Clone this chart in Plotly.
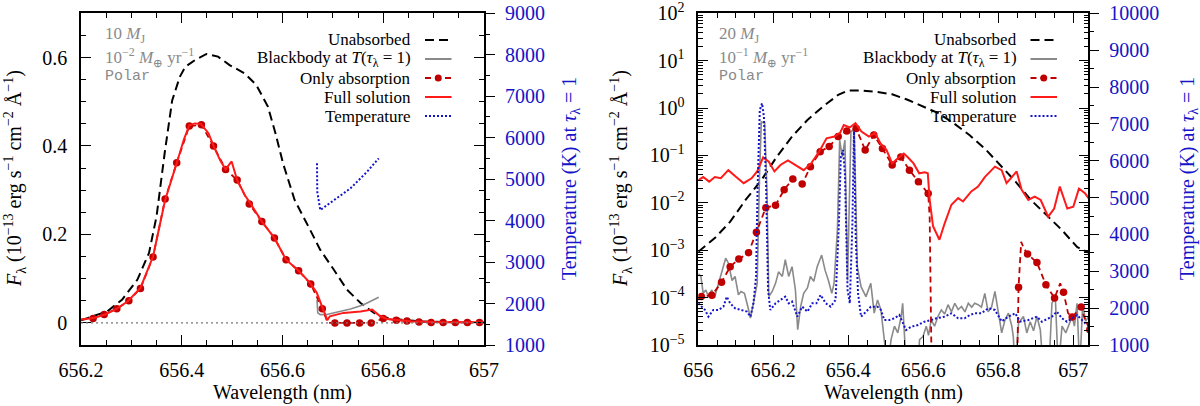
import plotly.graph_objects as go

W, H = 1200, 406
FONT = "Liberation Serif, Times New Roman, DejaVu Serif, serif"
MONO = "Liberation Mono, DejaVu Sans Mono, monospace"
BLUE = "#1414c8"
RED = "#ff1a1a"
DARKRED = "#c00000"
GRAY = "#8a8a8a"

# ---------------- left panel: 10 MJ, 1e-2 Mearth/yr, polar ----------------
l_unabs_x = [656.200, 656.252, 656.282, 656.312, 656.335, 656.350, 656.366, 656.381, 656.396, 656.407,
             656.426, 656.449, 656.472, 656.495, 656.525, 656.548, 656.571, 656.586, 656.601, 656.624,
             656.655, 656.675, 656.702, 656.728, 656.755, 656.781, 656.800, 656.834, 656.875, 657.000]
l_unabs_y = [0.006, 0.026, 0.053, 0.098, 0.158, 0.241, 0.383, 0.503, 0.556, 0.579,
             0.594, 0.608, 0.602, 0.583, 0.564, 0.538, 0.489, 0.429, 0.361, 0.278,
             0.210, 0.165, 0.120, 0.075, 0.045, 0.023, 0.013, 0.0075, 0.003, 0.001]

l_bb_x = [656.6685, 656.670, 656.675, 656.688, 656.735, 656.761, 656.791]
l_bb_y = [0.0526, 0.0226, 0.0187, 0.019, 0.0316, 0.041, 0.058]

l_full_x = [656.200, 656.225, 656.248, 656.271, 656.293, 656.318, 656.343, 656.367, 656.390, 656.404,
            656.415, 656.426, 656.438, 656.453, 656.464, 656.476, 656.487, 656.499, 656.510, 656.525,
            656.537, 656.559, 656.584, 656.607, 656.632, 656.655, 656.668, 656.681, 656.689, 656.694,
            656.721, 656.755, 656.778, 656.794, 656.808, 656.834, 656.854, 656.900, 657.000]
l_full_y = [0.0075, 0.011, 0.019, 0.032, 0.049, 0.079, 0.150, 0.278, 0.361, 0.414,
            0.447, 0.451, 0.450, 0.429, 0.398, 0.368, 0.347, 0.365, 0.323, 0.289,
            0.269, 0.229, 0.192, 0.143, 0.118, 0.090, 0.068, 0.032, 0.006, 0.015,
            0.0226, 0.026, 0.030, 0.015, 0.009, 0.006, 0.0036, 0.002, 0.0015]

l_abs_x = [656.200, 656.224, 656.246, 656.271, 656.295, 656.318, 656.343, 656.367, 656.390, 656.415,
           656.439, 656.463, 656.487, 656.510, 656.534, 656.559, 656.584, 656.607, 656.632, 656.656,
           656.679, 656.690, 656.704, 656.728, 656.753, 656.776, 656.800, 656.826, 656.847, 656.871,
           656.895, 656.919, 656.943, 656.967, 656.991]
l_abs_y = [0.0075, 0.0098, 0.019, 0.032, 0.050, 0.078, 0.149, 0.280, 0.362, 0.445,
           0.448, 0.400, 0.347, 0.323, 0.269, 0.229, 0.192, 0.143, 0.118, 0.088,
           0.032, 0.0, 0.0, 0.0, 0.0, 0.0, 0.0097, 0.006, 0.004, 0.002,
           0.001, 0.001, 0.001, 0.001, 0.001]
l_dot_x = l_abs_x[1:21] + l_abs_x[22:]
l_dot_y = l_abs_y[1:21] + l_abs_y[22:]

l_temp_x = [656.6685, 656.669, 656.675, 656.7016, 656.735, 656.768, 656.791]
l_temp_y = [5382, 4700, 4256, 4497, 4779, 5180, 5503]

# ---------------- right panel: 20 MJ, 1e-1 Mearth/yr, polar ----------------
r_unabs_x = [656.000, 656.044, 656.085, 656.126, 656.168, 656.209, 656.250, 656.291, 656.332, 656.373,
             656.399, 656.435, 656.476, 656.517, 656.558, 656.599, 656.640, 656.681, 656.723, 656.764,
             656.805, 656.846, 656.887, 656.928, 656.969, 657.010, 657.048]
r_unabs_y = [9.3e-4, 1.8e-3, 4.0e-3, 1.15e-2, 3.0e-2, 9.3e-2, 0.25, 0.56, 1.07, 1.9,
             2.35, 2.35, 2.2, 1.95, 1.5, 1.1, 0.78, 0.48, 0.27, 0.14,
             0.063, 0.028, 0.0115, 0.0055, 0.0027, 0.00117, 0.00083]

r_full_x = [656.000, 656.013, 656.029, 656.044, 656.060, 656.080, 656.101, 656.121, 656.142, 656.157,
            656.173, 656.188, 656.203, 656.219, 656.239, 656.260, 656.281, 656.301, 656.322, 656.342,
            656.363, 656.378, 656.388, 656.404, 656.419, 656.435, 656.455, 656.471, 656.486, 656.502,
            656.517, 656.532, 656.548, 656.558, 656.574, 656.589, 656.604, 656.612, 656.617, 656.626,
            656.643, 656.657, 656.675, 656.693, 656.706, 656.728, 656.746, 656.764, 656.791, 656.809,
            656.822, 656.836, 656.849, 656.862, 656.880, 656.897, 656.913, 656.933, 656.949, 656.964,
            656.974, 656.984, 657.000, 657.015, 657.031, 657.048]
r_full_y = [0.030, 0.035, 0.028, 0.035, 0.033, 0.049, 0.035, 0.026, 0.033, 0.046,
            0.091, 0.074, 0.046, 0.063, 0.079, 0.063, 0.049, 0.068, 0.12, 0.23,
            0.25, 0.30, 0.44, 0.39, 0.48, 0.32, 0.25, 0.30, 0.18, 0.13,
            0.068, 0.087, 0.11, 0.093, 0.068, 0.042, 0.044, 0.042, 0.0115, 0.0032,
            0.00166, 0.0037, 0.0091, 0.0126, 0.0107, 0.0174, 0.022, 0.035, 0.058, 0.049,
            0.026, 0.035, 0.046, 0.019, 0.0115, 0.0135, 0.0115, 0.0051, 0.0076, 0.022,
            0.0135, 0.0076, 0.0083, 0.020, 0.016, 0.0105]

r_abs_x = [656.000, 656.008, 656.036, 656.062, 656.085, 656.108, 656.134, 656.155, 656.180, 656.206,
           656.229, 656.252, 656.277, 656.299, 656.325, 656.349, 656.373, 656.396, 656.421, 656.445,
           656.468, 656.491, 656.517, 656.540, 656.563, 656.587, 656.613, 656.617, 656.623, 656.849,
           656.854, 656.861, 656.868, 656.878, 656.903, 656.927, 656.950, 656.965, 656.974, 656.986,
           656.997, 657.021, 657.030, 657.044]
r_abs_y = [8.9e-5, 1.05e-4, 1.12e-4, 2.1e-4, 4.5e-4, 6.5e-4, 8.9e-4, 2.4e-3, 7.9e-3, 8.9e-3,
           0.019, 0.032, 0.025, 0.058, 0.12, 0.155, 0.25, 0.33, 0.37, 0.13,
           0.27, 0.14, 0.063, 0.093, 0.049, 0.028, 0.0158, 5.0e-3, 1e-6, 1e-6,
           1.66e-4, 1.5e-3, 1.1e-3, 8.3e-4, 5.5e-4, 1.86e-4, 9.8e-5, 2.0e-4, 1.29e-4, 4.7e-5,
           3.9e-5, 6.3e-5, 3.7e-5, 2.1e-5]
r_dot_x = r_abs_x[1:27] + [656.854, 656.878, 656.903, 656.927, 656.950, 656.974, 656.997, 657.021, 657.044]
r_dot_y = r_abs_y[1:27] + [1.66e-4, 8.3e-4, 5.5e-4, 1.86e-4, 9.8e-5, 1.29e-4, 3.9e-5, 6.3e-5, 2.1e-5]

r_bb_x = [656.000, 656.007, 656.013, 656.020, 656.027, 656.036, 656.043, 656.054, 656.064, 656.073,
          656.080, 656.090, 656.098, 656.107, 656.114, 656.123, 656.132, 656.139, 656.147, 656.157,
          656.163, 656.168, 656.177, 656.183, 656.188, 656.197, 656.206, 656.214, 656.224, 656.232,
          656.241, 656.250, 656.259, 656.265, 656.273, 656.281, 656.291, 656.299, 656.308, 656.317,
          656.329, 656.338, 656.347, 656.356, 656.362, 656.371, 656.377, 656.384, 656.391, 656.398,
          656.407, 656.416, 656.424, 656.434, 656.447, 656.460, 656.469, 656.478, 656.487, 656.496,
          656.505, 656.514, 656.523, 656.532, 656.541, 656.545, 656.550, 656.555, 656.585, 656.590,
          656.599, 656.608, 656.614, 656.621, 656.630, 656.639, 656.648, 656.657, 656.666, 656.675,
          656.684, 656.693, 656.702, 656.711, 656.720, 656.729, 656.737, 656.746, 656.755, 656.764,
          656.773, 656.782, 656.791, 656.800, 656.809, 656.818, 656.827, 656.836, 656.840, 656.845,
          656.854, 656.867, 656.876, 656.885, 656.894, 656.903, 656.912, 656.920, 656.935, 656.943,
          656.952, 656.960, 656.970, 656.980, 656.997, 657.003, 657.010, 657.017, 657.025, 657.033,
          657.041]
r_bb_y = [3.2e-4, 2.8e-4, 1.23e-4, 1.45e-4, 1.05e-4, 1.45e-4, 9.8e-5, 2.0e-4, 3.8e-4, 6.8e-4,
          5.4e-4, 2.3e-4, 2.8e-4, 1.15e-4, 1.35e-4, 1.23e-4, 6.5e-5, 3.7e-5, 7.6e-5, 2.0e-4,
          0.032, 0.51, 0.48, 0.019, 1.05e-4, 1.35e-4, 2.0e-4, 3.5e-4, 2.8e-4, 6.3e-4,
          2.8e-4, 4.5e-4, 1.45e-4, 2.1e-5, 6.5e-5, 1.23e-4, 1.6e-4, 2.8e-4, 2.2e-4, 4.5e-4,
          7.9e-4, 3.8e-4, 2.3e-4, 1.23e-4, 2.0e-4, 2.7e-3, 0.21, 0.093, 0.21, 2.3e-4,
          0.32, 0.35, 4.5e-4, 1.7e-4, 1.05e-4, 2.0e-4, 4.7e-5, 8.9e-5, 5.5e-5, 1.3e-5,
          3e-6, 1.3e-5, 2.5e-5, 1.8e-5, 4.0e-5, 7.6e-5, 1.8e-5, 3e-6, 3e-6, 1.3e-5,
          1.5e-5, 2.5e-5, 1.6e-5, 3.4e-5, 2.5e-5, 4.0e-5, 5.5e-5, 4.5e-5, 7.1e-5, 5.0e-5,
          7.6e-5, 5.6e-5, 6.5e-5, 5.0e-5, 7.6e-5, 6.3e-5, 7.6e-5, 7.1e-5, 6.3e-5, 1.23e-4,
          5.0e-5, 6.3e-5, 1.35e-4, 4.7e-5, 1.8e-5, 3.4e-5, 4.7e-5, 2.5e-5, 1.5e-5, 3e-6,
          2.9e-5, 4.0e-5, 1.8e-5, 3.1e-5, 2.0e-5, 4.0e-5, 2.1e-5, 3e-6, 3e-6, 7.6e-5,
          1.05e-4, 3e-6, 2.5e-5, 1.8e-5, 4.0e-5, 2.5e-5, 7.6e-5, 3e-6, 7.1e-5, 3.2e-5,
          4.0e-5]

r_temp_x = [656.000, 656.009, 656.018, 656.027, 656.040, 656.054, 656.067, 656.076, 656.085, 656.098,
            656.116, 656.130, 656.139, 656.147, 656.154, 656.158, 656.164, 656.170, 656.175, 656.181,
            656.186, 656.192, 656.206, 656.219, 656.232, 656.241, 656.250, 656.264, 656.277, 656.291,
            656.304, 656.315, 656.326, 656.340, 656.353, 656.366, 656.375, 656.380, 656.386, 656.391,
            656.398, 656.404, 656.411, 656.415, 656.420, 656.426, 656.434, 656.447, 656.460, 656.478,
            656.487, 656.496, 656.510, 656.523, 656.536, 656.554, 656.568, 656.586, 656.603, 656.621,
            656.635, 656.657, 656.675, 656.693, 656.710, 656.724, 656.737, 656.755, 656.773, 656.791,
            656.809, 656.827, 656.845, 656.858, 656.880, 656.903, 656.916, 656.943, 656.956, 656.970,
            656.983, 657.010, 657.032, 657.041]
r_temp_y = [2132, 2040, 1950, 1769, 1950, 1950, 2040, 2311, 2132, 1997,
            1950, 1905, 1769, 2132, 2854, 5206, 7377, 7558, 7195, 5206,
            2493, 1950, 2132, 2222, 2311, 2132, 2180, 1769, 2040, 1905,
            2132, 2130, 2357, 2132, 2040, 2222, 4303, 6110, 6291, 5659,
            2493, 2132, 4303, 6800, 3849, 2403, 1769, 1900, 2040, 2040,
            1950, 1679, 1680, 1724, 1814, 1407, 1497, 1543, 1633, 1679,
            1724, 1769, 1860, 1724, 1724, 1814, 1860, 1860, 1996, 1950,
            1640, 1769, 1860, 1633, 1679, 1769, 1633, 1769, 1905, 1724,
            1633, 1814, 1588, 1543]

r_ytick_vals = [1e-5, 1e-4, 1e-3, 1e-2, 1e-1, 1e0, 1e1, 1e2]
r_ytick_text = ["10<sup>−5</sup>", "10<sup>−4</sup>", "10<sup>−3</sup>", "10<sup>−2</sup>",
                "10<sup>−1</sup>", "10<sup>0</sup>", "10<sup>1</sup>", "10<sup>2</sup>"]

legend_rows = [("Unabsorbed", "black", "9px,5px", False),
               ("Blackbody at <i>T</i>(<i>τ</i><sub>λ</sub> = 1)", GRAY, "solid", False),
               ("Only absorption", DARKRED, "6px,4px", True),
               ("Full solution", RED, "solid", False),
               ("Temperature", BLUE, "2px,2px", False)]

fig = go.Figure()


def add_panel(xa, ya, ta, unabs, bb, absl, dots, full, temp):
    fig.add_trace(go.Scatter(x=unabs[0], y=unabs[1], xaxis=xa, yaxis=ya, mode="lines",
                             line=dict(color="black", width=2, dash="9px,5px")))
    fig.add_trace(go.Scatter(x=bb[0], y=bb[1], xaxis=xa, yaxis=ya, mode="lines",
                             line=dict(color=GRAY, width=1.6)))
    fig.add_trace(go.Scatter(x=absl[0], y=absl[1], xaxis=xa, yaxis=ya, mode="lines",
                             line=dict(color=DARKRED, width=1.8, dash="6px,4px")))
    fig.add_trace(go.Scatter(x=dots[0], y=dots[1], xaxis=xa, yaxis=ya, mode="markers",
                             marker=dict(color=DARKRED, size=7.5)))
    fig.add_trace(go.Scatter(x=full[0], y=full[1], xaxis=xa, yaxis=ya, mode="lines",
                             line=dict(color=RED, width=2)))
    fig.add_trace(go.Scatter(x=temp[0], y=temp[1], xaxis=xa, yaxis=ta, mode="lines",
                             line=dict(color=BLUE, width=2, dash="2px,2px")))


add_panel("x", "y", "y2", (l_unabs_x, l_unabs_y), (l_bb_x, l_bb_y), (l_abs_x, l_abs_y),
          (l_dot_x, l_dot_y), (l_full_x, l_full_y), (l_temp_x, l_temp_y))
add_panel("x2", "y3", "y4", (r_unabs_x, r_unabs_y), (r_bb_x, r_bb_y), (r_abs_x, r_abs_y),
          (r_dot_x, r_dot_y), (r_full_x, r_full_y), (r_temp_x, r_temp_y))

ydom = [1 - 345 / H, 1 - 13.3 / H]
tickfont = dict(family=FONT, size=20, color="black")
common_x = dict(showgrid=False, zeroline=False, showline=True, linecolor="black", linewidth=1.5,
                ticks="inside", ticklen=10, tickcolor="black", tickwidth=1.2, mirror="ticks",
                dtick=0.2, tickfont=tickfont, ticklabelstandoff=6, automargin=False,
                ticklabeloverflow="allow",
                minor=dict(ticks="inside", ticklen=5, dtick=0.05, tickcolor="black", showgrid=False))
common_t = dict(side="right", showgrid=False, zeroline=False, showline=False, automargin=False,
                ticks="outside", ticklen=10, tickcolor="black", tickwidth=1.2, dtick=1000,
                tickformat="d", ticklabeloverflow="allow",
                tickfont=dict(family=FONT, size=20, color=BLUE), ticklabelstandoff=6,
                minor=dict(ticks="outside", ticklen=5, dtick=500, tickcolor="black", showgrid=False))

fig.update_layout(
    width=W, height=H, margin=dict(l=0, r=0, t=0, b=0, autoexpand=False),
    paper_bgcolor="white", plot_bgcolor="white", showlegend=False,
    font=dict(family=FONT, size=17, color="black"),
    xaxis=dict(common_x, domain=[81 / W, 484 / W], range=[656.2, 657], anchor="y"),
    yaxis=dict(common_x, domain=ydom, range=[-0.05, 0.7], anchor="x", tick0=0,
               ticklabelstandoff=8),
    yaxis2=dict(common_t, overlaying="y", anchor="x", range=[1000, 9000]),
    xaxis2=dict(common_x, domain=[698.3 / W, 1088.3 / W], range=[656, 657.04], anchor="y3"),
    yaxis3=dict(common_x, domain=ydom, type="log", range=[-5, 2], anchor="x2",
                tickmode="array", tickvals=r_ytick_vals, ticktext=r_ytick_text, ticklabelstandoff=8,
                minor=dict(ticks="inside", ticklen=5, dtick="D1", tickcolor="black", showgrid=False)),
    yaxis4=dict(common_t, overlaying="y3", anchor="x2", range=[1000, 10000]),
)

# zero reference line on the left panel
fig.add_shape(type="line", xref="x domain", yref="y", x0=0, x1=1, y0=0, y1=0,
              line=dict(color="#777777", width=1.2, dash="2px,3px"))

gray_txt = dict(family=FONT, size=17, color=GRAY)
mono_txt = dict(family=MONO, size=15, color=GRAY)
panel_info = [(102.5, "10 <i>M</i><sub>J</sub>", "10<sup>−2</sup> <i>M</i><sub>⊕</sub> yr<sup>−1</sup>",
               282.5, 15, 570, 413, 425, 451.5),
              (717.4, "20 <i>M</i><sub>J</sub>", "10<sup>−1</sup> <i>M</i><sub>⊕</sub> yr<sup>−1</sup>",
               893.3, 621, 1188, 1018.5, 1030.5, 1057)]

for (tx, mass, rate, xc, ylx, trx, leg_tx, lx0, lx1) in panel_info:
    for text, py, f in [(mass, 35, gray_txt), (rate, 57, gray_txt), ("Polar", 76, mono_txt)]:
        fig.add_annotation(x=tx / W, y=1 - py / H, xref="paper", yref="paper", text=text,
                           showarrow=False, xanchor="left", yanchor="middle", font=f)
    fig.add_annotation(x=xc / W, y=1 - 392 / H, xref="paper", yref="paper", text="Wavelength (nm)",
                       showarrow=False, xanchor="center", yanchor="middle", font=dict(family=FONT, size=20))
    fig.add_annotation(x=ylx / W, y=1 - 179 / H, xref="paper", yref="paper", textangle=-90,
                       text="<i>F</i><sub>λ</sub> (10<sup>−13</sup> erg s<sup>−1</sup> cm<sup>−2</sup> Å<sup>−1</sup>)",
                       showarrow=False, xanchor="center", yanchor="middle", font=dict(family=FONT, size=20))
    fig.add_annotation(x=trx / W, y=1 - 179 / H, xref="paper", yref="paper", textangle=-90,
                       text="Temperature (K) at <i>τ</i><sub>λ</sub> = 1",
                       showarrow=False, xanchor="center", yanchor="middle",
                       font=dict(family=FONT, size=20, color=BLUE))
    # hand-drawn legend: text right-aligned, sample on the right
    for i, (label, color, dash, dot) in enumerate(legend_rows):
        yy = 1 - (40 + 19 * i) / H
        fig.add_annotation(x=leg_tx / W, y=yy, xref="paper", yref="paper", text=label, showarrow=False,
                           xanchor="right", yanchor="middle", font=dict(family=FONT, size=17))
        fig.add_shape(type="line", xref="paper", yref="paper", x0=lx0 / W, x1=lx1 / W, y0=yy, y1=yy,
                      line=dict(color=color, width=2, dash=dash))
        if dot:
            fig.add_shape(type="circle", xref="paper", yref="paper", xsizemode="pixel", ysizemode="pixel",
                          xanchor=(lx0 + lx1) / 2 / W, yanchor=yy, x0=-3.5, x1=3.5, y0=-3.5, y1=3.5,
                          fillcolor=DARKRED, line=dict(width=0))

# the page body has a default margin that would push the figure off the window
fig.write_html("out.html", config={"displayModeBar": False},
               post_script="document.body.style.margin='0px';")
